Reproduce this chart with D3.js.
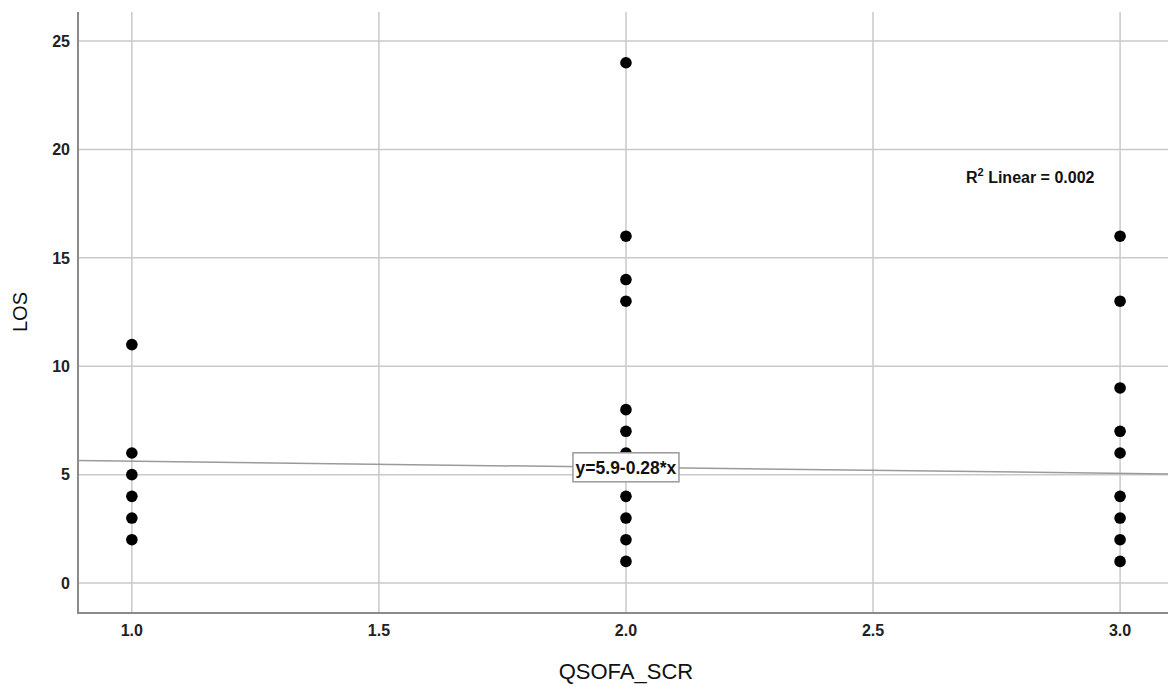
<!DOCTYPE html>
<html>
<head>
<meta charset="utf-8">
<script src="https://cdn.jsdelivr.net/npm/d3@7"></script>
<style>
  body { margin: 0; background: #fff; }
  text { font-family: Arial, "Liberation Sans", sans-serif; }
  .tick-label { font-weight: bold; font-size: 16px; fill: #222; }
</style>
</head>
<body>
<div id="chart"></div>
<script>
var width = 1168,
  height = 684;

// QSOFA score groups and the LOS values observed in each
var scoreOne = [2, 3, 4, 5, 6, 11];
var scoreTwo = [1, 2, 3, 4, 5, 6, 7, 8, 13, 14, 16, 24];
var scoreThree = [1, 2, 3, 4, 6, 7, 9, 13, 16];

var xTicks = [1.0, 1.5, 2.0, 2.5, 3.0];
var yTicks = [0, 5, 10, 15, 20, 25];

// fit line y = 5.9 - 0.28*x
var fitIntercept = 5.9,
  fitSlope = -0.28;
var fitText = "y=5.9-0.28*x";
var r2Value = "0.002";

var points = [];
scoreOne.forEach(function(v) { points.push({x: 1, y: v}); });
scoreTwo.forEach(function(v) { points.push({x: 2, y: v}); });
scoreThree.forEach(function(v) { points.push({x: 3, y: v}); });

var plotLeft = 78,
  plotRight = 1168,
  plotTop = 12,
  plotBottom = 613;

var x = d3.scaleLinear()
  .domain([0.891, 3.097])
  .range([plotLeft, plotRight]);

var y = d3.scaleLinear()
  .domain([-1.38, 26.34])
  .range([plotBottom, plotTop]);

var svg = d3.select("#chart").append("svg")
  .attr("width", width)
  .attr("height", height);

// grid
svg.append("g").selectAll("line")
  .data(yTicks)
  .enter().append("line")
  .attr("x1", plotLeft)
  .attr("x2", plotRight)
  .attr("y1", function(d) { return y(d); })
  .attr("y2", function(d) { return y(d); })
  .attr("stroke", "#c9c9c9")
  .attr("stroke-width", 1.5);

svg.append("g").selectAll("line")
  .data(xTicks)
  .enter().append("line")
  .attr("x1", function(d) { return x(d); })
  .attr("x2", function(d) { return x(d); })
  .attr("y1", plotTop)
  .attr("y2", plotBottom)
  .attr("stroke", "#c9c9c9")
  .attr("stroke-width", 1.5);

// axes lines
svg.append("line")
  .attr("x1", plotLeft).attr("x2", plotLeft)
  .attr("y1", plotTop).attr("y2", plotBottom + 1)
  .attr("stroke", "#8a8a8a")
  .attr("stroke-width", 2);
svg.append("line")
  .attr("x1", plotLeft).attr("x2", plotRight)
  .attr("y1", plotBottom).attr("y2", plotBottom)
  .attr("stroke", "#8a8a8a")
  .attr("stroke-width", 2);

// tick labels
svg.append("g").selectAll("text")
  .data(yTicks)
  .enter().append("text")
  .attr("class", "tick-label")
  .attr("x", plotLeft - 8)
  .attr("y", function(d) { return y(d); })
  .attr("dy", "0.36em")
  .attr("text-anchor", "end")
  .text(function(d) { return d; });

svg.append("g").selectAll("text")
  .data(xTicks)
  .enter().append("text")
  .attr("class", "tick-label")
  .attr("x", function(d) { return x(d); })
  .attr("y", plotBottom + 17)
  .attr("dy", "0.36em")
  .attr("text-anchor", "middle")
  .text(function(d) { return d3.format(".1f")(d); });

// axis titles
svg.append("text")
  .attr("transform", "translate(27,312) rotate(-90)")
  .attr("text-anchor", "middle")
  .style("font-size", "20px")
  .attr("fill", "#111")
  .text("LOS");

svg.append("text")
  .attr("x", x(2))
  .attr("y", 679)
  .attr("text-anchor", "middle")
  .style("font-size", "22px")
  .attr("fill", "#111")
  .text("QSOFA_SCR");

// regression line
var xd = x.domain();
svg.append("line")
  .attr("x1", x(xd[0]))
  .attr("y1", y(fitIntercept + fitSlope * xd[0]))
  .attr("x2", x(xd[1]))
  .attr("y2", y(fitIntercept + fitSlope * xd[1]))
  .attr("stroke", "#9a9a9a")
  .attr("stroke-width", 1.5);

// points
svg.append("g").selectAll("circle")
  .data(points)
  .enter().append("circle")
  .attr("cx", function(d) { return x(d.x); })
  .attr("cy", function(d) { return y(d.y); })
  .attr("r", 5.8)
  .attr("fill", "#000");

// equation label box
var lx = x(2),
  ly = y(fitIntercept + fitSlope * 2);
svg.append("rect")
  .attr("x", lx - 53)
  .attr("y", ly - 14.5)
  .attr("width", 106)
  .attr("height", 29)
  .attr("fill", "#fff")
  .attr("stroke", "#9a9a9a")
  .attr("stroke-width", 1.5);
svg.append("text")
  .attr("x", lx)
  .attr("y", ly)
  .attr("dy", "0.36em")
  .attr("text-anchor", "middle")
  .style("font-size", "17.5px")
  .style("font-weight", "bold")
  .attr("fill", "#111")
  .text(fitText);

// R squared label
var r2 = svg.append("text")
  .attr("x", 966)
  .attr("y", 183)
  .style("font-size", "16px")
  .style("font-weight", "bold")
  .attr("fill", "#111");
r2.append("tspan").text("R");
r2.append("tspan").attr("dy", -7).style("font-size", "11px").text("2");
r2.append("tspan").attr("dy", 7).text(" Linear = " + r2Value);
</script>
</body>
</html>
